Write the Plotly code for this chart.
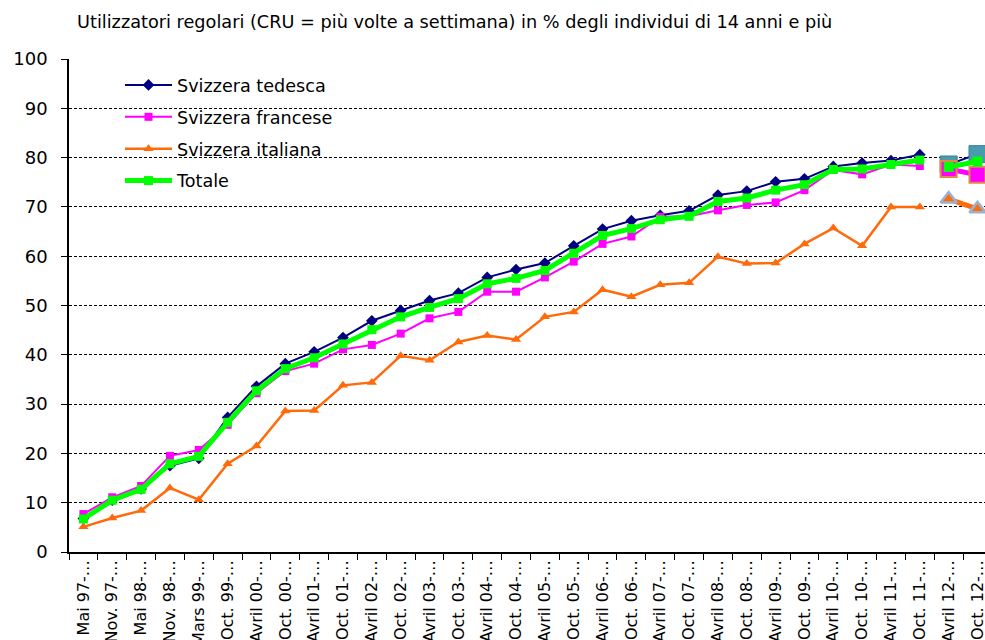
import plotly.graph_objects as go

# Survey waves (x categories)
categories = [
    "Mai 97-…", "Nov. 97-…", "Mai 98-…", "Nov. 98-…", "Mars 99-…", "Oct. 99-…",
    "Avril 00-…", "Oct. 00-…", "Avril 01-…", "Oct. 01-…", "Avril 02-…", "Oct. 02-…",
    "Avril 03-…", "Oct. 03-…", "Avril 04-…", "Oct. 04-…", "Avril 05-…", "Oct. 05-…",
    "Avril 06-…", "Oct. 06-…", "Avril 07-…", "Oct. 07-…", "Avril 08-…", "Oct. 08-…",
    "Avril 09-…", "Oct. 09-…", "Avril 10-…", "Oct. 10-…", "Avril 11-…", "Oct. 11-…",
    "Avril 12-…", "Oct. 12-…",
]
categories_old = categories[:30]
categories_new = categories[30:]

# Regular users (%), waves 1997-2011
tedesca = [6.8, 10.5, 12.8, 17.5, 19.0, 27.3, 33.6, 38.2, 40.6, 43.5, 46.9, 49.0,
           51.0, 52.5, 55.7, 57.3, 58.6, 62.1, 65.5, 67.2, 68.3, 69.2, 72.4, 73.2,
           75.1, 75.7, 78.2, 78.9, 79.4, 80.6]
francese = [7.7, 11.1, 13.4, 19.5, 20.7, 25.8, 32.2, 36.7, 38.2, 41.1, 42.0, 44.3,
            47.4, 48.7, 52.8, 52.8, 55.7, 58.9, 62.5, 64.0, 68.0, 68.1, 69.3, 70.4,
            70.9, 73.4, 77.5, 76.6, 78.6, 78.3]
italiana = [5.1, 6.9, 8.4, 13.0, 10.6, 17.9, 21.5, 28.6, 28.7, 33.8, 34.4, 39.8,
            38.9, 42.6, 43.9, 43.1, 47.7, 48.7, 53.2, 51.8, 54.2, 54.6, 59.9, 58.5,
            58.6, 62.5, 65.7, 62.1, 70.0, 70.0]
totale = [6.7, 10.5, 12.7, 17.9, 19.4, 26.3, 32.7, 37.2, 39.4, 42.2, 45.1, 47.7,
          49.6, 51.4, 54.4, 55.5, 57.1, 60.6, 64.2, 65.6, 67.4, 68.1, 71.1, 71.8,
          73.4, 74.5, 77.6, 77.7, 78.6, 79.5]

# 2012 waves (new series)
tedesca_2012 = [78.6, 80.7]
francese_2012 = [77.7, 76.5]
italiana_2012 = [71.6, 69.6]
totale_2012 = [78.1, 79.2]

y_ticks = list(range(0, 101, 10))

FONT = "'DejaVu Sans', sans-serif"

fig = go.Figure()

series = [
    ("Svizzera tedesca", tedesca, "#000080", 2, dict(symbol="diamond", size=9)),
    ("Svizzera francese", francese, "#FF00FF", 2, dict(symbol="square", size=8)),
    ("Svizzera italiana", italiana, "#FF6A0A", 2.5, dict(symbol="triangle-up", size=9)),
    ("Totale", totale, "#00FF00", 5, dict(symbol="square", size=9)),
]
for i, (name, vals, color, lw, mk) in enumerate(series):
    fig.add_trace(go.Scatter(
        x=categories_old, y=vals, name=name, mode="lines+markers",
        line=dict(color=color, width=lw),
        marker=dict(color=color, line=dict(width=0), **mk),
        legendgroup=f"g{i}",
    ))

late = [
    (tedesca_2012, "#000080", 2, dict(symbol="square", size=17, color="#4A9AB0",
                                      line=dict(color="#3A7F94", width=1))),
    (francese_2012, "#FF00FF", 5, dict(symbol="square", size=16, color="#FF00FF",
                                       line=dict(color="#E2874C", width=2))),
    (italiana_2012, "#FF6A0A", 5, dict(symbol="triangle-up", size=14, color="#FF6A0A",
                                       line=dict(color="#98B2D4", width=2.5))),
    (totale_2012, "#00FF00", 5, dict(symbol="square", size=10, color="#00FF00",
                                     line=dict(width=0))),
]
for vals, color, lw, mk in late:
    fig.add_trace(go.Scatter(
        x=categories_new, y=vals, mode="lines+markers", showlegend=False,
        line=dict(color=color, width=lw), marker=mk,
    ))

fig.update_layout(
    width=985, height=640,
    margin=dict(l=69, r=0, t=59, b=88, autoexpand=False),
    paper_bgcolor="white", plot_bgcolor="white",
    font=dict(family=FONT, color="black"),
    title=dict(
        text="Utilizzatori regolari (CRU = più volte a settimana) in % degli individui di 14 anni e più",
        font=dict(size=17.7, family=FONT, color="black"),
        xref="container", yref="container", x=77 / 985, xanchor="left",
        y=1 - 22 / 640, yanchor="middle",
    ),
    legend=dict(
        xref="container", yref="container", x=120 / 985, y=1 - 67 / 640,
        xanchor="left", yanchor="top", bgcolor="rgba(0,0,0,0)",
        font=dict(size=17.6, family=FONT, color="black"),
        traceorder="grouped", tracegroupgap=6, itemwidth=47,
    ),
    showlegend=True,
)

fig.update_xaxes(
    type="category", categoryorder="array", categoryarray=categories,
    range=[-0.5, 31.26], showgrid=False, zeroline=False,
    showline=True, linecolor="black", linewidth=1.5,
    ticks="outside", tickson="boundaries", ticklen=6, tickcolor="black",
    tickangle=-90, tickfont=dict(size=16, family=FONT, color="black"),
    automargin=False,
)
fig.update_yaxes(
    range=[0, 100], tickvals=y_ticks, showgrid=True, gridcolor="black",
    griddash="3px,2px", gridwidth=1, zeroline=False,
    showline=True, linecolor="black", linewidth=1.5,
    ticks="outside", ticklen=6, tickcolor="black",
    tickfont=dict(size=18, family=FONT, color="black"),
    ticklabelstandoff=10, automargin=False,
)

fig.write_html("out.html")
